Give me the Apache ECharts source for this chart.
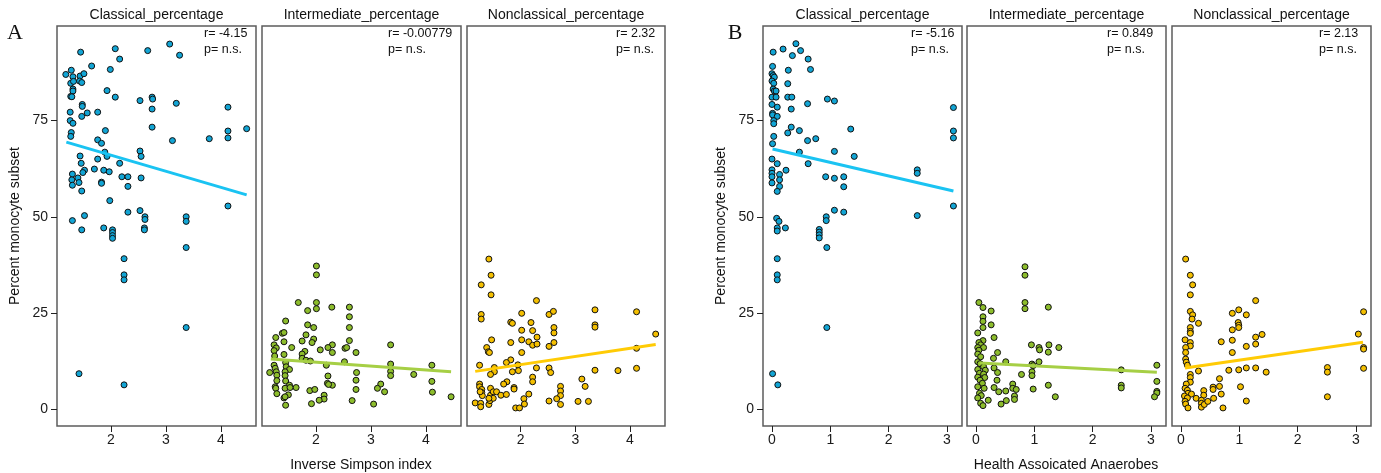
<!DOCTYPE html>
<html>
<head>
<meta charset="utf-8">
<script src="https://cdn.jsdelivr.net/npm/echarts@6/dist/echarts.min.js"></script>
<style>html,body{margin:0;padding:0;background:#fff}#c{width:1381px;height:473px}</style>
</head>
<body>
<div id="c"></div>
<script>
// ---------- DATA ----------
const facetTitles = ['Classical_percentage', 'Intermediate_percentage', 'Nonclassical_percentage'];
const xTitles = ['Inverse Simpson index', 'Health Assoicated Anaerobes'];
const panelLetters = ['A', 'B'];
const yTitle = 'Percent monocyte subset';
const yTicks = [0, 25, 50, 75];
const xTicksA = [2, 3, 4];
const xTicksB = [0, 1, 2, 3];
const rLabels = ['-4.15', '-0.00779', '2.32', '-5.16', '0.849', '2.13'];
const pLabel = 'n.s.';

const classicalSimpson = [[1.18,87.0],[1.28,88.1],[1.31,86.4],[1.44,86.6],[1.51,87.2],[1.27,84.7],[1.32,85.2],[1.43,85.3],[1.47,84.9],[1.31,83.2],[1.31,82.7],[1.27,81.3],[1.29,81.2],[1.45,92.8],[2.08,93.7],[2.16,91.0],[2.67,93.2],[3.07,94.9],[3.25,92.0],[1.65,89.2],[1.99,88.3],[1.93,82.8],[2.08,81.1],[2.53,80.2],[2.75,81.1],[2.76,80.6],[3.19,79.5],[2.75,78.0],[1.48,79.2],[1.48,78.7],[1.47,76.1],[1.57,77.0],[1.76,77.2],[1.26,77.2],[4.13,78.5],[1.26,75.0],[1.31,74.3],[2.75,73.3],[1.90,72.4],[1.28,71.9],[1.27,70.9],[4.13,72.3],[4.13,70.5],[4.47,72.9],[3.79,70.3],[3.12,69.8],[1.76,70.0],[1.83,69.1],[1.89,66.8],[1.93,65.7],[2.53,67.1],[2.55,65.7],[1.44,65.8],[1.76,65.0],[1.46,63.9],[2.16,63.9],[1.52,62.1],[1.70,62.4],[1.87,62.1],[1.97,61.7],[1.49,61.5],[1.30,61.1],[1.29,59.6],[1.40,60.1],[1.42,58.9],[1.30,58.2],[1.83,59.0],[1.83,58.7],[2.20,60.4],[2.31,60.4],[2.31,57.9],[2.55,60.1],[1.47,56.7],[1.98,54.2],[4.13,52.8],[2.31,51.2],[2.53,51.6],[2.62,50.0],[2.62,49.3],[3.37,50.0],[3.37,48.8],[1.52,50.3],[1.30,49.0],[1.47,46.6],[1.87,47.1],[2.03,46.6],[2.03,45.9],[2.03,45.1],[2.03,44.4],[2.61,47.1],[2.61,46.6],[3.37,42.0],[2.24,39.1],[2.24,34.9],[2.24,33.6],[3.37,21.2],[1.42,9.2],[2.24,6.3]];

const intermediateSimpson = [[2.01,37.2],[2.01,34.9],[1.68,27.7],[2.01,27.7],[2.01,26.1],[1.85,25.6],[2.29,26.5],[2.61,26.5],[2.61,24.0],[2.61,21.2],[1.45,22.9],[1.85,21.9],[1.96,21.2],[1.82,19.3],[1.39,19.7],[1.42,19.9],[1.27,18.6],[1.96,18.2],[1.75,17.7],[1.93,17.3],[2.61,17.8],[1.42,17.5],[1.24,16.7],[1.28,15.9],[1.56,16.0],[2.30,16.7],[2.22,16.0],[3.36,16.7],[2.53,15.8],[2.56,16.0],[1.24,15.2],[1.80,15.0],[2.08,15.4],[2.30,14.7],[2.73,14.7],[1.75,14.3],[1.42,14.2],[1.25,13.8],[1.75,13.2],[1.82,12.7],[1.90,12.5],[2.52,12.3],[1.45,12.1],[1.24,11.4],[1.46,11.0],[2.19,11.4],[3.36,11.7],[4.11,11.4],[1.26,10.6],[1.52,10.3],[1.16,9.5],[1.28,9.7],[1.44,9.7],[2.74,9.5],[3.36,9.8],[3.78,9.0],[1.29,8.8],[1.44,8.7],[3.36,8.7],[2.22,8.6],[1.45,7.3],[1.52,6.2],[1.29,7.4],[2.73,7.5],[4.11,7.2],[2.21,6.7],[2.30,6.2],[2.23,6.4],[3.18,6.5],[3.12,5.4],[1.64,5.6],[1.26,5.8],[1.27,5.4],[1.44,5.4],[1.53,5.6],[1.89,4.8],[1.98,5.1],[2.73,5.1],[3.25,4.5],[1.29,4.0],[1.50,3.7],[1.42,2.9],[1.44,3.2],[4.12,4.4],[4.46,3.2],[2.15,3.6],[2.15,2.6],[2.06,2.3],[2.66,2.2],[1.92,1.4],[3.05,1.3],[1.45,1.0]];

const nonclassicalSimpson = [[1.42,39.0],[1.46,34.8],[1.28,32.3],[1.46,29.7],[2.29,28.2],[2.02,24.9],[1.28,24.6],[1.28,23.4],[2.52,24.6],[2.60,25.4],[3.36,25.8],[4.12,25.3],[1.82,22.6],[1.85,22.3],[2.19,22.5],[2.61,21.2],[2.61,19.8],[3.36,21.9],[3.36,21.3],[2.02,20.5],[2.22,20.4],[2.30,18.7],[1.47,18.0],[1.82,17.3],[2.02,18.0],[2.15,17.5],[2.22,16.6],[2.30,16.9],[2.61,17.3],[2.52,16.3],[1.38,16.0],[1.41,14.9],[1.43,14.7],[2.02,14.7],[4.47,19.5],[4.12,15.8],[4.12,10.6],[3.78,10.0],[3.36,10.1],[1.25,11.4],[1.82,12.8],[1.74,12.1],[1.95,11.5],[1.96,10.0],[1.85,9.7],[1.52,10.8],[1.52,9.7],[1.45,9.0],[2.29,10.7],[2.52,10.7],[2.55,9.5],[2.22,8.3],[2.22,7.1],[3.12,7.8],[3.18,5.9],[1.75,7.1],[1.69,6.5],[1.25,6.5],[1.25,5.8],[1.29,5.1],[1.29,4.3],[1.30,3.5],[1.26,4.5],[1.45,5.4],[1.45,3.6],[1.50,4.5],[1.56,4.5],[1.64,3.6],[1.74,3.8],[1.88,5.6],[1.88,5.2],[2.15,3.9],[2.73,5.9],[2.73,4.7],[2.73,3.5],[2.66,2.7],[2.52,2.1],[2.73,1.2],[3.05,2.0],[3.24,2.0],[2.06,2.7],[2.07,1.3],[1.91,0.3],[1.98,0.3],[1.17,1.6],[1.27,1.5],[1.27,0.6],[1.42,1.2],[1.44,2.2],[1.50,2.8],[1.42,2.8]];

const classicalHAA = [[0.02,92.8],[0.19,93.6],[0.41,95.0],[0.49,93.2],[0.35,91.9],[0.62,91.0],[0.66,88.3],[0.28,88.1],[0.01,89.1],[0.00,87.2],[0.02,86.7],[0.04,86.3],[0.00,85.3],[0.03,84.7],[0.27,84.6],[0.02,83.2],[0.04,82.7],[0.07,82.7],[0.00,81.1],[0.07,81.1],[0.27,81.1],[0.34,81.1],[0.95,80.6],[1.07,80.1],[0.61,79.4],[0.00,79.2],[0.09,78.5],[0.33,78.0],[0.01,76.9],[0.01,76.5],[0.09,76.1],[0.03,75.0],[0.03,74.2],[3.11,78.4],[3.11,72.3],[3.11,70.5],[1.35,72.8],[0.33,73.3],[0.47,72.4],[0.27,71.8],[0.75,70.3],[0.61,69.8],[0.03,70.9],[0.01,69.0],[0.47,66.8],[1.07,67.0],[1.41,65.7],[0.00,65.0],[0.09,63.8],[0.62,63.8],[2.49,62.2],[2.49,61.3],[0.24,62.1],[0.00,62.2],[0.00,61.3],[0.13,61.0],[0.00,60.4],[0.13,59.6],[0.00,58.8],[0.13,57.9],[0.92,60.4],[1.07,60.0],[1.23,60.4],[1.23,57.8],[0.09,56.6],[3.11,52.8],[1.07,51.7],[1.23,51.2],[2.49,50.3],[0.93,50.0],[0.93,49.0],[0.08,49.6],[0.12,48.8],[0.09,47.1],[0.23,47.1],[0.09,46.3],[0.81,46.7],[0.81,46.0],[0.81,45.3],[0.81,44.5],[0.94,42.0],[0.09,39.1],[0.09,34.9],[0.09,33.6],[0.94,21.2],[0.01,9.2],[0.10,6.3]];

const intermediateHAA = [[0.84,37.0],[0.84,34.8],[0.05,27.7],[0.84,27.7],[0.84,26.1],[0.12,26.4],[1.24,26.5],[0.26,25.5],[0.12,24.0],[0.12,22.8],[0.26,21.9],[0.12,21.2],[0.03,19.8],[0.31,18.6],[0.12,17.8],[0.05,17.3],[0.08,16.7],[0.03,16.0],[0.13,16.0],[0.95,16.7],[1.08,16.0],[1.09,15.4],[1.25,16.7],[1.42,16.0],[1.24,14.8],[0.37,14.7],[0.05,15.3],[0.03,14.3],[0.08,13.6],[0.30,13.2],[0.03,12.3],[0.51,12.3],[1.08,12.3],[0.07,11.8],[0.96,11.7],[0.98,11.3],[2.49,10.2],[3.10,11.4],[0.13,11.0],[0.31,10.7],[0.03,10.3],[0.16,10.1],[0.37,9.5],[0.96,9.7],[0.06,9.3],[0.13,9.1],[0.78,9.0],[0.96,8.7],[0.03,8.3],[0.15,8.2],[0.07,7.5],[0.36,7.5],[3.10,7.2],[0.11,6.7],[0.63,6.5],[1.24,6.2],[2.49,6.2],[2.49,5.5],[0.03,5.8],[0.14,5.4],[0.31,5.6],[0.63,5.4],[0.69,5.1],[0.98,5.2],[0.39,4.5],[0.51,4.7],[3.10,4.6],[3.10,4.2],[3.06,3.2],[1.36,3.2],[0.06,4.1],[0.09,3.5],[0.03,2.9],[0.66,3.4],[0.66,2.5],[0.21,2.3],[0.52,2.2],[0.08,1.5],[0.43,1.3],[0.12,0.9]];

const nonclassicalHAA = [[0.08,39.0],[0.16,34.8],[0.20,32.3],[0.16,29.7],[1.28,28.2],[0.88,24.9],[0.99,25.8],[1.12,24.5],[3.13,25.3],[0.16,25.4],[0.20,24.5],[0.19,23.4],[0.30,22.3],[0.98,22.5],[0.99,21.8],[0.99,21.2],[0.16,21.2],[0.16,20.2],[0.16,19.7],[0.88,20.6],[1.39,19.4],[1.28,18.7],[3.04,19.5],[0.07,18.0],[0.88,17.9],[0.16,17.3],[0.16,16.4],[0.69,17.5],[1.28,16.9],[1.12,16.3],[0.08,16.0],[0.08,14.7],[3.13,16.0],[3.13,15.6],[0.88,14.7],[0.08,13.0],[0.09,12.2],[0.11,11.4],[0.82,10.1],[0.99,10.2],[1.12,10.7],[1.28,10.7],[1.46,9.6],[0.30,9.9],[2.51,10.8],[2.51,9.6],[3.13,10.6],[0.16,9.0],[0.16,8.2],[0.16,7.0],[0.66,7.9],[0.66,5.9],[1.02,5.8],[0.09,6.5],[0.07,5.4],[0.11,4.9],[0.12,4.1],[0.18,3.9],[0.06,3.4],[0.11,2.9],[0.07,2.0],[0.08,1.3],[0.12,0.3],[0.26,2.8],[0.39,4.8],[0.39,3.6],[0.55,5.7],[0.55,5.1],[0.56,2.8],[0.69,3.9],[0.35,2.3],[0.35,1.5],[0.35,0.5],[0.40,1.2],[0.46,2.0],[0.72,0.3],[1.12,2.1],[2.51,3.2]];

// fitted regression line end points
const fitClassicalSimpson = [[1.19,69.4],[4.47,55.7]];
const fitIntermediateSimpson = [[1.18,13.0],[4.46,9.7]];
const fitNonclassicalSimpson = [[1.17,9.8],[4.47,16.8]];
const fitClassicalHAA = [[0.01,67.6],[3.11,56.7]];
const fitIntermediateHAA = [[0.06,12.0],[3.10,9.6]];
const fitNonclassicalHAA = [[0.07,10.7],[3.12,17.4]];

// ---------- LAYOUT / STYLE ----------
const FONT = 'Liberation Sans';
const TOP = 26, HEIGHT = 400;
const panelLefts = [57, 262, 467, 763, 967, 1172];
const panelWidths = [199, 199, 198, 199, 199, 199];
const rLeft = [204, 388, 616, 911, 1107, 1319];
const fills = ['#12a5d5', '#8dbd2c', '#f4bf00'];
const lineColors = ['#1ac3f2', '#a6cf45', '#ffcb05'];
const yMin = -4.4, yMax = 99.6;
const xRangeA = [1.02, 4.64];
const xRangeB = [-0.154, 3.257];

const scatterSets = [classicalSimpson, intermediateSimpson, nonclassicalSimpson, classicalHAA, intermediateHAA, nonclassicalHAA];
const fitSets = [fitClassicalSimpson, fitIntermediateSimpson, fitNonclassicalSimpson, fitClassicalHAA, fitIntermediateHAA, fitNonclassicalHAA];

const grids = [], xAxes = [], yAxes = [], series = [], graphics = [];
for (let i = 0; i < 6; i++) {
  const isA = i < 3;
  const facet = i % 3;
  const first = facet === 0;
  grids.push({left: panelLefts[i], top: TOP, width: panelWidths[i], height: HEIGHT,
    show: true, borderColor: '#5c5c5c', borderWidth: 1.5, backgroundColor: '#fff'});
  const xr = isA ? xRangeA : xRangeB;
  const xt = isA ? xTicksA : xTicksB;
  xAxes.push({type: 'value', gridIndex: i, min: xr[0], max: xr[1], position: 'bottom',
    axisLine: {show: false, onZero: false},
    splitLine: {show: false},
    axisTick: {show: true, inside: false, length: 6, customValues: xt, lineStyle: {color: '#222', width: 1}},
    axisLabel: {show: true, customValues: xt, margin: 7, color: '#1a1a1a', fontFamily: FONT, fontSize: 14}
  });
  yAxes.push({type: 'value', gridIndex: i, min: yMin, max: yMax, position: 'left',
    axisLine: {show: false, onZero: false},
    splitLine: {show: false},
    axisTick: {show: first, inside: false, length: 6, customValues: yTicks, lineStyle: {color: '#222', width: 1}},
    axisLabel: {show: first, customValues: yTicks, margin: 9, color: '#1a1a1a', fontFamily: FONT, fontSize: 14}
  });
  series.push({type: 'scatter', xAxisIndex: i, yAxisIndex: i, data: scatterSets[i],
    symbol: 'circle', symbolSize: 6, z: 3,
    itemStyle: {color: fills[facet], borderColor: '#111', borderWidth: 1, opacity: 1}});
  series.push({type: 'line', xAxisIndex: i, yAxisIndex: i, data: fitSets[i],
    symbol: 'none', z: 4, lineStyle: {color: lineColors[facet], width: 3}});
  // strip title
  graphics.push({type: 'text', x: panelLefts[i] + panelWidths[i] / 2, y: 15,
    style: {text: facetTitles[facet], align: 'center', verticalAlign: 'middle',
      font: '14px "' + FONT + '"', fill: '#111'}});
  // r / p annotation
  graphics.push({type: 'text', x: rLeft[i], y: 34,
    style: {text: 'r= ' + rLabels[i], align: 'left', verticalAlign: 'middle', font: '12.5px "' + FONT + '"', fill: '#111'}});
  graphics.push({type: 'text', x: rLeft[i], y: 50,
    style: {text: 'p= ' + pLabel, align: 'left', verticalAlign: 'middle', font: '12.5px "' + FONT + '"', fill: '#111'}});
}
// panel letters
graphics.push({type: 'text', x: 15, y: 33, style: {text: panelLetters[0], align: 'center', verticalAlign: 'middle', font: '22px "Liberation Serif"', fill: '#111'}});
graphics.push({type: 'text', x: 735, y: 33, style: {text: panelLetters[1], align: 'center', verticalAlign: 'middle', font: '22px "Liberation Serif"', fill: '#111'}});
// y titles
[15.5, 721.5].forEach(function (x) {
  graphics.push({type: 'text', x: x, y: TOP + HEIGHT / 2, rotation: Math.PI / 2,
    style: {text: yTitle, align: 'center', verticalAlign: 'middle', font: '14px "' + FONT + '"', fill: '#111'}});
});
// x titles
graphics.push({type: 'text', x: 361, y: 465, style: {text: xTitles[0], align: 'center', verticalAlign: 'middle', font: '14px "' + FONT + '"', fill: '#111'}});
graphics.push({type: 'text', x: 1066, y: 465, style: {text: xTitles[1], align: 'center', verticalAlign: 'middle', font: '14px "' + FONT + '"', fill: '#111'}});

const chart = echarts.init(document.getElementById('c'), null, {renderer: 'canvas'});
chart.setOption({
  animation: false,
  backgroundColor: '#fff',
  grid: grids, xAxis: xAxes, yAxis: yAxes, series: series,
  graphic: graphics
});
</script>
</body>
</html>
